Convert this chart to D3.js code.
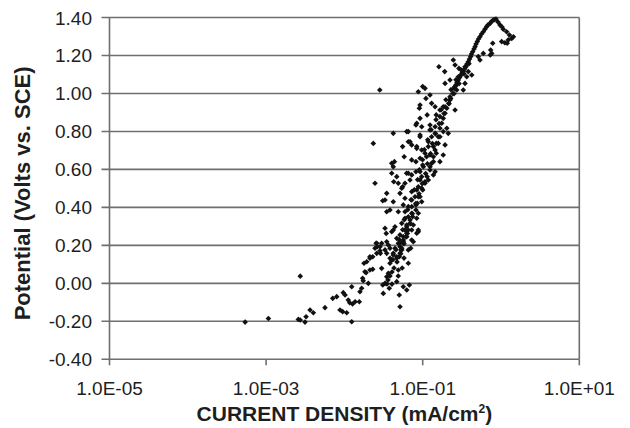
<!DOCTYPE html>
<html>
<head>
<meta charset="utf-8">
<script src="https://cdn.jsdelivr.net/npm/d3@7"></script>
<style>
    body { margin: 0; background: white; }
    text { font-family: 'Liberation Sans', Arial, sans-serif; fill: #1e1e1e; }
    .tick-label { font-size: 19px; }
    .axis-title { font-weight: bold; }
</style>
</head>
<body>
<div id="chart"></div>
<script>
// current density (mA/cm2), potential (V vs SCE)
var tailPoints = [
    [5.4e-4,-0.204],[1.07e-3,-0.185],[2.58e-3,-0.19],[2.73e-3,-0.193],[3.14e-3,-0.204],[3.24e-3,-0.176],[2.73e-3,0.038],
    [3.64e-3,-0.14],[4.01e-3,-0.155],[5.65e-3,-0.128],[7.1e-3,-0.079],[7.98e-3,-0.07],[9.68e-3,-0.049],[0.0102,-0.061],
    [8.79e-3,-0.14],[9.5e-3,-0.149],[0.0107,-0.155],[0.0124,-0.202],[0.0112,-0.088],[0.0117,-0.102],[0.0127,-0.109],
    [0.0137,-0.097],[0.0155,-0.097],[0.0124,-0.018],[0.0158,-0.044],[0.0166,-0.026],[0.0174,0.014],[0.0171,0.027],
    [0.0183,0.061],[0.0178,0.106],[0.0193,0.114],[0.0212,0.132],[0.023,0.14],[0.0189,0.056],[0.0212,0.07],[0.023,0.074],
    [0.0254,0.211],[0.0263,0.193],[0.0285,0.172],[0.0299,0.079],[0.0314,-0.053],[0.0309,-0.009],[0.033,0.0],[0.0347,0.035],
    [0.0364,0.053],[0.0382,0.106],[0.0402,0.123],[0.0421,0.158],[0.0443,0.185],[0.033,0.176],[0.0347,0.219],[0.0299,0.211],
    [0.0374,-0.026],[0.0466,0.009],[0.0502,-0.061],[0.0513,-0.123],[0.0565,-0.018],[0.0625,-0.035],[0.0675,-0.009],
    [0.0655,0.106],[0.0488,0.07],[0.054,0.176],[0.0513,0.211],[0.0466,0.237],[0.0565,0.228],[0.0625,0.264],[0.0703,0.185],
    [0.0759,0.219],[0.0839,0.264],[0.0879,0.281],[0.0402,0.272],[0.0364,0.202],[0.0259,0.158],[0.0202,0.0],[0.047,0.113],
    [0.043,0.081],[0.0405,0.06],[0.0382,0.039],[0.036,0.018],[0.035,-0.003],[0.0487,0.039],[0.0547,0.081],[0.0577,0.133],
    [0.0405,-0.004]
]

var cloudPoints = [
    [0.0421,0.79],[0.0655,0.799],[0.0925,0.781],[0.0234,0.737],[0.0655,0.746],[0.0724,0.729],[0.0839,0.711],[0.0972,0.702],
    [0.124,0.808],[0.144,0.79],[0.166,0.772],[0.183,0.799],[0.193,0.729],[0.158,0.737],[0.137,0.72],[0.118,0.746],
    [0.107,0.685],[0.124,0.676],[0.149,0.685],[0.183,0.676],[0.166,0.641],[0.137,0.641],[0.0925,0.659],[0.082,0.641],
    [0.0724,0.65],[0.0402,0.632],[0.0421,0.614],[0.1,0.623],[0.124,0.614],[0.144,0.588],[0.137,0.571],[0.0925,0.588],
    [0.082,0.588],[0.0724,0.571],[0.0655,0.58],[0.0402,0.58],[0.0466,0.562],[0.0488,0.527],[0.0594,0.527],[0.0689,0.544],
    [0.0925,0.544],[0.107,0.535],[0.118,0.544],[0.0972,0.501],[0.0839,0.492],[0.0724,0.483],[0.054,0.501],[0.0513,0.474],
    [0.0347,0.474],[0.0246,0.527],[0.033,0.439],[0.0309,0.435],[0.0421,0.43],[0.0594,0.448],[0.0724,0.439],[0.0879,0.456],
    [0.0972,0.43],[0.082,0.413],[0.0655,0.404],[0.0565,0.413],[0.0382,0.386],[0.0347,0.377],[0.0488,0.377],[0.0594,0.377],
    [0.0724,0.369],[0.0879,0.369],[0.0839,0.343],[0.0689,0.334],[0.0594,0.343],[0.054,0.316],[0.0625,0.307],[0.0759,0.307],
    [0.0879,0.272],[0.0724,0.281],[0.0594,0.281],[0.0443,0.298],[0.033,0.29],[0.0421,0.281],[0.0513,0.255],[0.0625,0.246],
    [0.0724,0.228],[0.0565,0.219],[0.0488,0.211],[0.0259,0.211],[0.0246,0.185],[0.0285,0.193],[0.0382,0.185],[0.054,0.185],
    [0.0655,0.176],[0.0513,0.158],[0.0421,0.149],[0.0212,0.14],[0.0347,0.158],[0.0382,0.132],[0.0466,0.132],
    [0.0288,0.158],[0.0342,0.263],[0.0435,0.641],[0.0427,0.535],[0.0554,0.72],[0.058,0.667],[0.0623,0.58],[0.0554,0.509],
    [0.0839,0.843]
]

var bandPoints = [
    [0.158,0.772],[0.149,0.737],[0.144,0.702],[0.137,0.667],[0.13,0.632],[0.124,0.597],[0.114,0.562],[0.107,0.527],
    [0.1,0.492],[0.0925,0.456],[0.0853,0.422],[0.082,0.386],[0.0744,0.351],[0.0689,0.316],[0.0655,0.281],[0.0612,0.246],
    [0.0565,0.211],[0.0528,0.176],[0.0502,0.14],
    [0.863,1.392],[0.797,1.387],[0.724,1.369],[0.657,1.352],[0.594,1.325],[0.539,1.299],[0.498,1.273],[0.466,1.246],
    [0.435,1.22],[0.41,1.194],[0.382,1.167],[0.357,1.141],[0.33,1.115],[0.306,1.097],[0.285,1.071],[0.266,1.045],
    [0.251,1.027],[0.242,1.0],[0.228,0.974],[0.215,0.948],[0.203,0.922],[0.193,0.896],[0.183,0.869],[0.175,0.843],
    [0.166,0.817],
    [0.826,1.389],[0.756,1.379],[0.682,1.361],[0.625,1.339],[0.564,1.313],[0.516,1.287],[0.48,1.26],[0.452,1.234],
    [0.42,1.208],[0.396,1.181],[0.368,1.155],[0.342,1.129],[0.318,1.108],[0.295,1.084],[0.274,1.058],[0.259,1.037]
]

// thick core of the band, 0.1 V to 1.15 V
var corePoints = [
    [0.347,1.141],[0.299,1.088],[0.259,1.036],[0.223,0.983],[0.193,0.93],[0.166,0.878],[0.144,0.825],[0.13,0.772],
    [0.118,0.72],[0.112,0.667],[0.102,0.614],[0.097,0.562],[0.0879,0.509],[0.0798,0.456],[0.0724,0.404],[0.0655,0.351],
    [0.0625,0.298],[0.0565,0.246],[0.0513,0.193],[0.0466,0.14],
    [0.308,1.125],[0.266,1.072],[0.23,1.02],[0.198,0.967],[0.172,0.914],[0.148,0.862],[0.128,0.809],[0.116,0.756],
    [0.105,0.704],[0.0996,0.651],[0.0907,0.598],[0.0862,0.546],[0.0781,0.493],[0.0709,0.44],[0.0644,0.388],[0.0582,0.335],
    [0.0556,0.282],[0.0502,0.23],[0.0456,0.177],[0.0414,0.124],
    [0.39,1.157],[0.336,1.104],[0.291,1.052],[0.251,0.999],[0.217,0.946],[0.187,0.894],[0.162,0.841],[0.146,0.788],
    [0.133,0.736],[0.126,0.683],[0.115,0.63],[0.109,0.578],[0.0989,0.525],[0.0898,0.472],[0.0815,0.42],[0.0737,0.367],
    [0.0703,0.314],[0.0636,0.262],[0.0577,0.209],[0.0524,0.156],[0.1,1.036]
]

var peakPoints = [
    [0.971,1.361],[1.07,1.338],[1.18,1.325],[1.28,1.308],[1.37,1.29],[1.24,1.282],[1.12,1.267],[1.02,1.273],
    [0.784,1.264],[0.761,1.211],[0.738,1.229],[0.539,1.176],[0.513,1.194],[0.594,1.211],[0.915,1.376],[1.03,1.35],
    [0.73,1.203],[1.2,1.264],[1.44,1.299]
]

var upperPoints = [
    [0.0283,1.018],[0.0625,0.799],[0.161,1.141],[0.246,1.176],[0.259,1.15],[0.0879,1.009],[0.107,1.027],[0.0925,0.939],
    [0.0907,0.922],[0.124,0.992],[0.13,0.948],[0.144,0.93],[0.149,0.887],[0.183,0.93],[0.223,0.966],[0.259,0.913],
    [0.272,1.018],[0.33,1.018],[0.365,1.088],[0.423,1.097],[0.382,1.115],[0.285,1.088],[0.347,1.053],[0.193,1.053],
    [0.223,1.071],[0.0925,0.869],[0.0972,0.825],[0.082,0.834],[0.124,0.834],[0.203,0.817],[0.212,0.79],[0.0925,0.772],
    [0.0689,0.746],[0.0839,0.72],[0.114,0.887],[0.166,0.913],[0.11,0.974],[0.191,1.115],[0.29,1.132]
]

var xTicks = [1e-5, 1e-3, 1e-1, 1e1]
var xTickLabels = ['1.0E-05', '1.0E-03', '1.0E-01', '1.0E+01']
var yTicks = [-0.4, -0.2, 0, 0.2, 0.4, 0.6, 0.8, 1.0, 1.2, 1.4]

var layout = { width: 630, height: 428, left: 109.5, right: 579.3, top: 17.5, bottom: 359.3 }
var axisColor = '#6f6f6f'

var svg = d3.select('#chart').append('svg')
    .attr('width', layout.width)
    .attr('height', layout.height)

svg.append('rect')
    .attr('width', '100%')
    .attr('height', '100%')
    .attr('fill', 'white')

var x = d3.scaleLog().domain([1e-5, 1e1]).range([layout.left, layout.right])
var y = d3.scaleLinear().domain([-0.4, 1.4]).range([layout.bottom, layout.top])

// horizontal grid, bottom one doubles as the x axis
svg.append('g')
    .selectAll('line')
    .data(yTicks)
    .join('line')
    .attr('x1', layout.left - 8)
    .attr('x2', layout.right)
    .attr('y1', function (d) { return y(d) })
    .attr('y2', function (d) { return y(d) })
    .attr('stroke', axisColor)
    .attr('stroke-width', 1.6)

// left axis and right border
svg.append('line')
    .attr('x1', layout.left).attr('x2', layout.left)
    .attr('y1', layout.top).attr('y2', layout.bottom)
    .attr('stroke', axisColor).attr('stroke-width', 1.6)
svg.append('line')
    .attr('x1', layout.right).attr('x2', layout.right)
    .attr('y1', layout.top).attr('y2', layout.bottom)
    .attr('stroke', axisColor).attr('stroke-width', 1.6)

// x ticks
svg.append('g')
    .selectAll('line')
    .data(xTicks)
    .join('line')
    .attr('x1', function (d) { return x(d) })
    .attr('x2', function (d) { return x(d) })
    .attr('y1', layout.bottom)
    .attr('y2', layout.bottom + 6)
    .attr('stroke', axisColor)
    .attr('stroke-width', 1.6)

svg.append('g')
    .selectAll('text')
    .data(xTicks)
    .join('text')
    .attr('class', 'tick-label')
    .attr('x', function (d) { return x(d) })
    .attr('y', 395)
    .attr('text-anchor', 'middle')
    .text(function (d, i) { return xTickLabels[i] })

svg.append('g')
    .selectAll('text')
    .data(yTicks)
    .join('text')
    .attr('class', 'tick-label')
    .attr('x', 92)
    .attr('y', function (d) { return y(d) + 7 })
    .attr('text-anchor', 'end')
    .text(function (d) { return d3.format('.2f')(d).replace('\u2212', '-') })

// axis titles
var xTitle = svg.append('text')
    .attr('class', 'axis-title')
    .attr('x', (layout.left + layout.right) / 2)
    .attr('y', 421)
    .attr('text-anchor', 'middle')
    .style('font-size', '21px')
xTitle.append('tspan').text('CURRENT DENSITY (mA/cm')
xTitle.append('tspan').attr('dy', -8).style('font-size', '12px').text('2')
xTitle.append('tspan').attr('dy', 8).text(')')

svg.append('text')
    .attr('class', 'axis-title')
    .attr('transform', 'translate(30, ' + ((layout.top + layout.bottom) / 2 + 5) + ') rotate(-90)')
    .attr('text-anchor', 'middle')
    .style('font-size', '22px')
    .text('Potential (Volts vs. SCE)')

// markers
var allPoints = tailPoints.concat(cloudPoints, bandPoints, corePoints, peakPoints, upperPoints)
svg.append('g')
    .selectAll('path')
    .data(allPoints)
    .join('path')
    .attr('d', 'M0,-2.8L2.8,0L0,2.8L-2.8,0Z')
    .attr('transform', function (d) { return 'translate(' + x(d[0]) + ',' + y(d[1]) + ')' })
    .attr('fill', '#111')
</script>
</body>
</html>
